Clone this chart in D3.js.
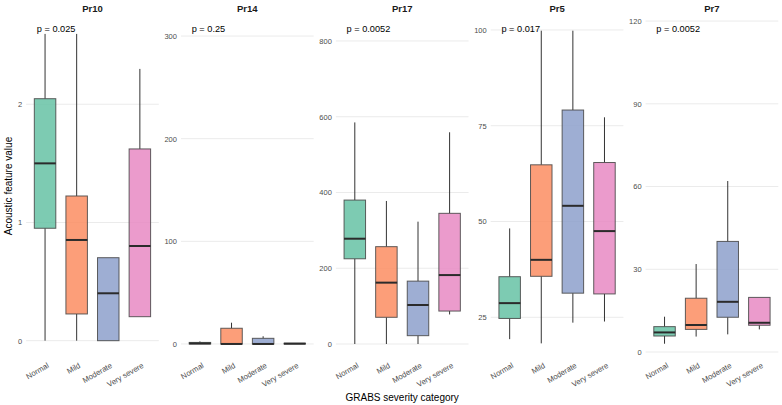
<!DOCTYPE html>
<html>
<head>
<meta charset="utf-8">
<script src="https://cdn.jsdelivr.net/npm/d3@7"></script>
<style>
  body { margin: 0; background: #fff; }
  text { font-family: "Liberation Sans", Arial, sans-serif; }
</style>
</head>
<body>
<div id="chart"></div>
<script>
// facets, groups and labels
var facets = ["Pr10", "Pr14", "Pr17", "Pr5", "Pr7"];
var categories = ["Normal", "Mild", "Moderate", "Very severe"];
var pLabels = ["p = 0.025", "p = 0.25", "p = 0.0052", "p = 0.017", "p = 0.0052"];

// y limits of each free scale (outliers are hidden but still set the range)
var yLimits = [[-0.138, 2.755], [-12.7, 320.5], [-34.3, 868.6], [14.64, 103.9], [-1.81, 122.2]];
var yTicks = [[0, 1, 2], [0, 100, 200, 300], [0, 200, 400, 600, 800], [25, 50, 75, 100], [0, 30, 60, 90, 120]];

// box stats per category: [lower whisker, q1, median, q3, upper whisker]
var pr10 = [[0, 0.951, 1.50, 2.047, 2.595], [0, 0.226, 0.852, 1.224, 2.595], [0, 0, 0.401, 0.702, 0.702], [0.203, 0.203, 0.801, 1.622, 2.299]];
var pr14 = [[0, 0, 0.5, 1.5, 2.5], [0, 0, 0, 15.3, 20.7], [0, 0, 0, 5.5, 7.5], [0, 0, 0.3, 0.7, 0.7]];
var pr17 = [[0, 225, 278, 380, 585], [0, 70.5, 162, 257, 377.6], [0, 22, 103, 166, 323], [78, 87, 182, 345, 559]];
var pr5 = [[19.3, 24.7, 28.7, 35.6, 48.2], [18.2, 35.7, 40.0, 64.8, 99.8], [23.6, 31.3, 54.1, 79.1, 99.8], [23.9, 31.1, 47.5, 65.4, 77.2]];
var pr7 = [[3.0, 5.8, 7.1, 9.2, 12.8], [5.6, 8.2, 9.8, 19.5, 31.9], [6.4, 12.6, 18.2, 40.1, 62], [8.2, 9.7, 10.6, 19.8, 19.8]];
var stats = [pr10, pr14, pr17, pr5, pr7];

var width = 782, height = 405;
var panelTop = 15, panelBottom = 357;

var svg = d3.select("#chart")
  .append("svg")
    .attr("width", width)
    .attr("height", height);

// Set2 colours, boxes drawn with alpha
var color = d3.scaleOrdinal()
  .domain(categories)
  .range(["#66C2A5", "#FC8D62", "#8DA0CB", "#E78AC3"]);

// one band per facet
var fx = d3.scaleBand()
  .domain(facets)
  .range([26.1, 778.3])
  .paddingInner(0.143);

facets.forEach(function(f, i) {
  var g = svg.append("g")
    .attr("transform", "translate(" + fx(f) + ",0)");

  var x = d3.scalePoint()
    .domain(categories)
    .range([0, fx.bandwidth()])
    .padding(0.6);

  var y = d3.scaleLinear()
    .domain(yLimits[i])
    .range([panelBottom, panelTop]);

  // grid
  g.append("g")
    .selectAll("line")
    .data(yTicks[i])
    .join("line")
      .attr("x1", 0)
      .attr("x2", fx.bandwidth())
      .attr("y1", function(d) { return y(d); })
      .attr("y2", function(d) { return y(d); })
      .attr("stroke", "#EBEBEB")
      .attr("stroke-width", 1);

  // y axis labels
  var ya = g.append("g")
    .call(d3.axisLeft(y).tickValues(yTicks[i]).tickFormat(d3.format("d")).tickSize(0).tickPadding(4));
  ya.select(".domain").remove();
  ya.selectAll("text")
    .attr("fill", "#4D4D4D")
    .style("font-size", "7.5px")
    .style("font-family", "Liberation Sans, Arial, sans-serif");

  // x axis labels, rotated
  g.append("g")
    .selectAll("text")
    .data(categories)
    .join("text")
      .attr("transform", function(d) { return "translate(" + (x(d) + 1.5) + "," + (panelBottom + 5) + ") rotate(-30)"; })
      .attr("text-anchor", "end")
      .attr("dy", "0.75em")
      .attr("fill", "#4D4D4D")
      .style("font-size", "7.7px")
      .text(function(d) { return d; });

  // strip title
  g.append("text")
    .attr("x", fx.bandwidth() / 2)
    .attr("y", 12)
    .attr("text-anchor", "middle")
    .attr("font-weight", "bold")
    .style("font-size", "9.5px")
    .attr("fill", "#1A1A1A")
    .text(f);

  // boxes
  var bw = x.step() * 0.68;
  var boxes = g.append("g")
    .selectAll("g")
    .data(stats[i])
    .join("g")
      .attr("transform", function(d, j) { return "translate(" + x(categories[j]) + ",0)"; });

  boxes.append("line")
    .attr("y1", function(d) { return y(d[3]); })
    .attr("y2", function(d) { return y(d[4]); })
    .attr("stroke", "#333")
    .attr("stroke-width", 1);
  boxes.append("line")
    .attr("y1", function(d) { return y(d[1]); })
    .attr("y2", function(d) { return y(d[0]); })
    .attr("stroke", "#333")
    .attr("stroke-width", 1);
  boxes.append("rect")
    .attr("x", -bw / 2)
    .attr("width", bw)
    .attr("y", function(d) { return y(d[3]); })
    .attr("height", function(d) { return Math.max(0, y(d[1]) - y(d[3])); })
    .attr("fill", function(d, j) { return color(categories[j]); })
    .attr("fill-opacity", 0.85)
    .attr("stroke", "#444")
    .attr("stroke-opacity", 0.85)
    .attr("stroke-width", 1);
  boxes.append("line")
    .attr("x1", -bw / 2)
    .attr("x2", bw / 2)
    .attr("y1", function(d) { return y(d[2]); })
    .attr("y2", function(d) { return y(d[2]); })
    .attr("stroke", "#2b2b2b")
    .attr("stroke-width", 2);

  // p value label
  g.append("text")
    .attr("x", x("Normal") - x.step() * 0.26)
    .attr("y", y(yLimits[i][1]) + 17)
    .attr("fill", "#000")
    .style("font-size", "9.2px")
    .text(pLabels[i]);
});

// axis titles
svg.append("text")
  .attr("transform", "translate(12," + ((panelTop + panelBottom) / 2) + ") rotate(-90)")
  .attr("text-anchor", "middle")
  .style("font-size", "10px")
  .text("Acoustic feature value");

svg.append("text")
  .attr("x", (fx.range()[0] + fx.range()[1]) / 2)
  .attr("y", 401)
  .attr("text-anchor", "middle")
  .style("font-size", "10px")
  .text("GRABS severity category");
</script>
</body>
</html>
